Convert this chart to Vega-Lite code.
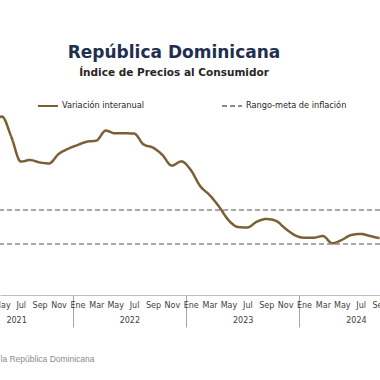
{
  "$schema": "https://vega.github.io/schema/vega-lite/v6.json",
  "width": 380,
  "height": 204,
  "autosize": {"type": "none"},
  "padding": {"left": 0, "right": 0, "top": 91, "bottom": 85},
  "background": "white",
  "config": {"view": {"stroke": null}, "font": "DejaVu Sans"},
  "title": {
    "text": "República Dominicana",
    "subtitle": "Índice de Precios al Consumidor",
    "anchor": "middle",
    "frame": "group",
    "dx": -16,
    "offset": 12,
    "font": "DejaVu Sans",
    "fontSize": 17,
    "fontWeight": "bold",
    "color": "#1F2F4F",
    "subtitleFont": "DejaVu Sans",
    "subtitleFontSize": 10.5,
    "subtitleFontWeight": "bold",
    "subtitleColor": "#262626",
    "subtitlePadding": 6
  },
  "layer": [
    {
      "data": {"values": [
        {"t": 3, "fecha": "2021-04", "valor": 9.9, "serie": "Variación interanual"},
        {"t": 4, "fecha": "2021-05", "valor": 10.5, "serie": "Variación interanual"},
        {"t": 5, "fecha": "2021-06", "valor": 9.3, "serie": "Variación interanual"},
        {"t": 6, "fecha": "2021-07", "valor": 7.85, "serie": "Variación interanual"},
        {"t": 7, "fecha": "2021-08", "valor": 7.94, "serie": "Variación interanual"},
        {"t": 8, "fecha": "2021-09", "valor": 7.8, "serie": "Variación interanual"},
        {"t": 9, "fecha": "2021-10", "valor": 7.74, "serie": "Variación interanual"},
        {"t": 10, "fecha": "2021-11", "valor": 8.29, "serie": "Variación interanual"},
        {"t": 11, "fecha": "2021-12", "valor": 8.6, "serie": "Variación interanual"},
        {"t": 12, "fecha": "2022-01", "valor": 8.82, "serie": "Variación interanual"},
        {"t": 13, "fecha": "2022-02", "valor": 9.02, "serie": "Variación interanual"},
        {"t": 14, "fecha": "2022-03", "valor": 9.08, "serie": "Variación interanual"},
        {"t": 15, "fecha": "2022-04", "valor": 9.67, "serie": "Variación interanual"},
        {"t": 16, "fecha": "2022-05", "valor": 9.51, "serie": "Variación interanual"},
        {"t": 17, "fecha": "2022-06", "valor": 9.51, "serie": "Variación interanual"},
        {"t": 18, "fecha": "2022-07", "valor": 9.5, "serie": "Variación interanual"},
        {"t": 19, "fecha": "2022-08", "valor": 8.86, "serie": "Variación interanual"},
        {"t": 20, "fecha": "2022-09", "valor": 8.67, "serie": "Variación interanual"},
        {"t": 21, "fecha": "2022-10", "valor": 8.24, "serie": "Variación interanual"},
        {"t": 22, "fecha": "2022-11", "valor": 7.61, "serie": "Variación interanual"},
        {"t": 23, "fecha": "2022-12", "valor": 7.86, "serie": "Variación interanual"},
        {"t": 24, "fecha": "2023-01", "valor": 7.36, "serie": "Variación interanual"},
        {"t": 25, "fecha": "2023-02", "valor": 6.41, "serie": "Variación interanual"},
        {"t": 26, "fecha": "2023-03", "valor": 5.88, "serie": "Variación interanual"},
        {"t": 27, "fecha": "2023-04", "valor": 5.2, "serie": "Variación interanual"},
        {"t": 28, "fecha": "2023-05", "valor": 4.41, "serie": "Variación interanual"},
        {"t": 29, "fecha": "2023-06", "valor": 4.0, "serie": "Variación interanual"},
        {"t": 30, "fecha": "2023-07", "valor": 3.97, "serie": "Variación interanual"},
        {"t": 31, "fecha": "2023-08", "valor": 4.31, "serie": "Variación interanual"},
        {"t": 32, "fecha": "2023-09", "valor": 4.47, "serie": "Variación interanual"},
        {"t": 33, "fecha": "2023-10", "valor": 4.37, "serie": "Variación interanual"},
        {"t": 34, "fecha": "2023-11", "valor": 3.92, "serie": "Variación interanual"},
        {"t": 35, "fecha": "2023-12", "valor": 3.53, "serie": "Variación interanual"},
        {"t": 36, "fecha": "2024-01", "valor": 3.37, "serie": "Variación interanual"},
        {"t": 37, "fecha": "2024-02", "valor": 3.37, "serie": "Variación interanual"},
        {"t": 38, "fecha": "2024-03", "valor": 3.47, "serie": "Variación interanual"},
        {"t": 39, "fecha": "2024-04", "valor": 3.04, "serie": "Variación interanual"},
        {"t": 40, "fecha": "2024-05", "valor": 3.24, "serie": "Variación interanual"},
        {"t": 41, "fecha": "2024-06", "valor": 3.53, "serie": "Variación interanual"},
        {"t": 42, "fecha": "2024-07", "valor": 3.59, "serie": "Variación interanual"},
        {"t": 43, "fecha": "2024-08", "valor": 3.47, "serie": "Variación interanual"},
        {"t": 44, "fecha": "2024-09", "valor": 3.34, "serie": "Variación interanual"}
      ]},
      "mark": {"type": "line", "interpolate": "monotone", "strokeWidth": 2.5, "clip": true},
      "encoding": {
        "x": {
          "field": "t",
          "type": "quantitative",
          "scale": {"domain": [3.8, 44.05], "nice": false, "zero": false},
          "axis": {
            "values": [4, 5.5, 6, 8, 10, 11.5, 12, 14, 16, 17.5, 18, 20, 22, 23.5, 24, 26, 28, 29.5, 30, 32, 34, 35.5, 36, 38, 40, 41.5, 42, 44],
            "labelExpr": "datum.value % 1 != 0 ? (datum.value % 12 == 5.5 ? '' + (2021 + floor(datum.value / 12)) : '') : ['Ene','Feb','Mar','Abr','May','Jun','Jul','Ago','Sep','Oct','Nov','Dic'][datum.value % 12]",
            "ticks": true,
            "tickSize": {"condition": {"test": "datum.value % 12 == 11.5", "value": 32}, "value": 0},
            "tickColor": "#A6A6A6",
            "tickWidth": 1,
            "labelPadding": {"condition": {"test": "datum.value % 12 == 5.5", "value": 21}, "value": 6},
            "labelFont": "DejaVu Sans",
            "labelFontSize": 8,
            "labelColor": "#404040",
            "labelOverlap": false,
            "labelBound": false,
            "labelFlush": false,
            "domainColor": "#BFBFBF",
            "domainWidth": 1,
            "grid": false,
            "title": "la República Dominicana",
            "titleAnchor": "start",
            "titleAlign": "left",
            "titleX": 0,
            "titleY": 66,
            "titleBaseline": "alphabetic",
            "titleFont": "Liberation Sans",
            "titleFontSize": 8.5,
            "titleFontWeight": "normal",
            "titleColor": "#8C8C8C"
          }
        },
        "y": {
          "field": "valor",
          "type": "quantitative",
          "scale": {"domain": [0, 12], "nice": false},
          "axis": null
        },
        "color": {
          "field": "serie",
          "type": "nominal",
          "scale": {"domain": ["Variación interanual", "Rango-meta de inflación"], "range": ["#7A6035", "#8C8C8C"]},
          "legend": {
            "title": null,
            "orient": "none",
            "direction": "horizontal",
            "legendX": 37,
            "legendY": 4,
            "padding": 0,
            "symbolType": "stroke",
            "symbolSize": 400,
            "symbolStrokeWidth": 2,
            "labelFont": "DejaVu Sans",
            "labelFontSize": 8.2,
            "labelColor": "#262626",
            "labelOffset": 3,
            "columnPadding": 74
          }
        },
        "strokeDash": {
          "field": "serie",
          "type": "nominal",
          "scale": {"domain": ["Variación interanual", "Rango-meta de inflación"], "range": [[1, 0], [5, 3]]},
          "legend": {
            "title": null,
            "orient": "none",
            "direction": "horizontal",
            "legendX": 37,
            "legendY": 4,
            "padding": 0,
            "symbolType": "stroke",
            "symbolSize": 400,
            "symbolStrokeWidth": 2,
            "labelFont": "DejaVu Sans",
            "labelFontSize": 8.2,
            "labelColor": "#262626",
            "labelOffset": 3,
            "columnPadding": 74
          }
        }
      }
    },
    {
      "data": {"values": [
        {"meta": 3, "serie": "Rango-meta de inflación"},
        {"meta": 5, "serie": "Rango-meta de inflación"}
      ]},
      "mark": {"type": "rule", "strokeWidth": 1.5},
      "encoding": {
        "y": {"field": "meta", "type": "quantitative"},
        "color": {"field": "serie", "type": "nominal"},
        "strokeDash": {"field": "serie", "type": "nominal"}
      }
    }
  ]
}
